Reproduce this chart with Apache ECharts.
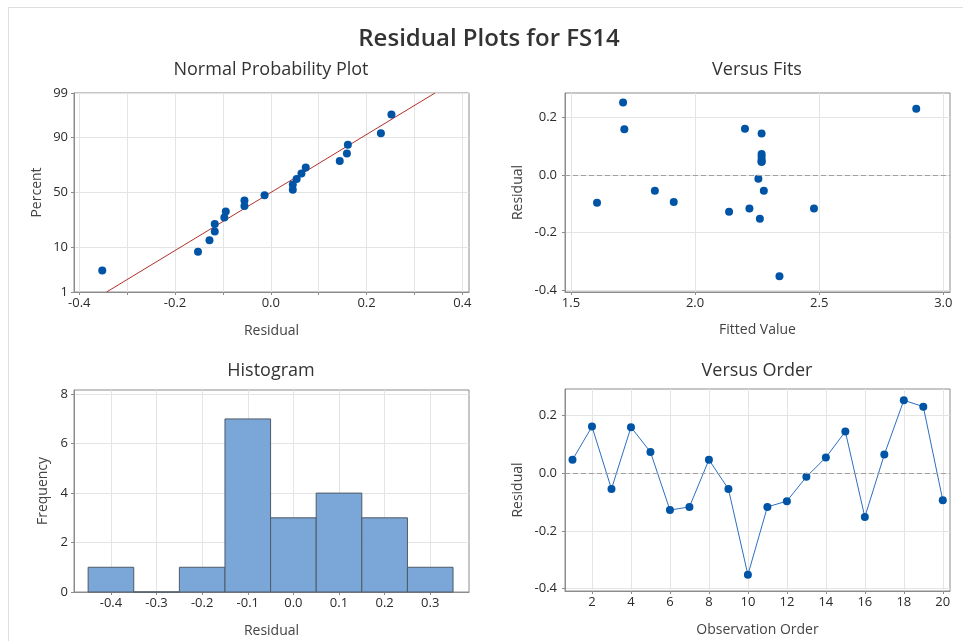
<!DOCTYPE html>
<html>
<head>
<meta charset="utf-8">
<title>Residual Plots for FS14</title>
<script src="https://cdn.jsdelivr.net/npm/echarts@6.0.0/dist/echarts.min.js"></script>
<style>
  html, body { margin: 0; padding: 0; background: #fff; }
  #chart { width: 963px; height: 641px; }
</style>
</head>
<body>
<div id="chart"></div>
<script>
// residuals in observation order
const obsOrder = [1, 2, 3, 4, 5, 6, 7, 8, 9, 10, 11, 12, 13, 14, 15, 16, 17, 18, 19, 20]
const residuals = [0.046, 0.161, -0.055, 0.159, 0.073, -0.128, -0.117, 0.046, -0.055, -0.352,
                   -0.117, -0.097, -0.013, 0.054, 0.144, -0.152, 0.064, 0.252, 0.230, -0.094]
const fittedValues = [2.268, 2.201, 1.838, 1.715, 2.268, 2.137, 2.219, 2.268, 2.277, 2.340,
                      2.479, 1.605, 2.255, 2.268, 2.268, 2.261, 2.268, 1.710, 2.891, 1.914]

// normal probability plot: percent of each sorted residual, and fitted line ends
const probPercent = [3.4, 8.3, 13.2, 18.1, 23.0, 27.9, 32.8, 37.7, 42.6, 47.5,
                     52.5, 57.4, 62.3, 67.2, 72.1, 77.0, 81.9, 86.8, 91.7, 96.6]
const fitLineResidual = [-0.343, 0.343]
const fitLinePercent = [1, 99]

// histogram bins
const binStart = [-0.45, -0.35, -0.25, -0.15, -0.05, 0.05, 0.15, 0.25]
const binEnd = [-0.35, -0.25, -0.15, -0.05, 0.05, 0.15, 0.25, 0.35]
const binCount = [1, 0, 1, 7, 3, 4, 3, 1]

// tick labels
const probTicks = [1, 10, 50, 90, 99]
const npLabelTicks = [-0.4, -0.2, 0, 0.2, 0.4]
const npGridTicks = [-0.4, -0.3, -0.2, -0.1, 0, 0.1, 0.2, 0.3, 0.4]
const fitTicks = [1.5, 2.0, 2.5, 3.0]
const residTicks = [-0.4, -0.2, 0, 0.2]
const histTicks = [-0.4, -0.3, -0.2, -0.1, 0, 0.1, 0.2, 0.3]
const freqTicks = [0, 2, 4, 6, 8]
const orderTicks = [2, 4, 6, 8, 10, 12, 14, 16, 18, 20]

// inverse normal cdf, used as the probability axis scale
function probit(p) {
  const a = [-3.969683028665376e+01, 2.209460984245205e+02, -2.759285104469687e+02, 1.383577518672690e+02, -3.066479806614716e+01, 2.506628277459239e+00]
  const b = [-5.447609879822406e+01, 1.615858368580409e+02, -1.556989798598866e+02, 6.680131188771972e+01, -1.328068155288572e+01]
  const c = [-7.784894002430293e-03, -3.223964580411365e-01, -2.400758277161838e+00, -2.549732539343734e+00, 4.374664141464968e+00, 2.938163982698783e+00]
  const d = [7.784695709041462e-03, 3.224671290700398e-01, 2.445134137142996e+00, 3.754408661907416e+00]
  const pl = 0.02425
  let q, r
  if (p < pl) {
    q = Math.sqrt(-2 * Math.log(p))
    return (((((c[0]*q+c[1])*q+c[2])*q+c[3])*q+c[4])*q+c[5]) / ((((d[0]*q+d[1])*q+d[2])*q+d[3])*q+1)
  }
  if (p <= 1 - pl) {
    q = p - 0.5; r = q * q
    return (((((a[0]*r+a[1])*r+a[2])*r+a[3])*r+a[4])*r+a[5])*q / (((((b[0]*r+b[1])*r+b[2])*r+b[3])*r+b[4])*r+1)
  }
  q = Math.sqrt(-2 * Math.log(1 - p))
  return -(((((c[0]*q+c[1])*q+c[2])*q+c[3])*q+c[4])*q+c[5]) / ((((d[0]*q+d[1])*q+d[2])*q+d[3])*q+1)
}

const probZ = probTicks.map(p => probit(p / 100))
const sortedResid = residuals.slice().sort((x, y) => x - y)

const FONT = 'Open Sans'
const BLUE = '#0054a6'
const GRID_COLOR = '#e4e4e4'
const FRAME_COLOR = '#8c8c8c'

const gridDef = (left, top, width, height) => ({
  left, top, width, height, show: true, borderColor: FRAME_COLOR, borderWidth: 1, outerBoundsMode: 'none'
})

const makeAxis = (gridIndex, opt) => ({
  gridIndex,
  type: 'value',
  min: opt.min,
  max: opt.max,
  name: opt.name,
  nameLocation: 'middle',
  nameGap: opt.nameGap,
  nameTextStyle: { fontFamily: FONT, fontSize: 14, color: '#444' },
  axisLine: { show: true, onZero: false, lineStyle: { color: FRAME_COLOR } },
  axisTick: { show: true, length: 3, lineStyle: { color: FRAME_COLOR }, customValues: opt.ticks },
  axisLabel: {
    fontFamily: FONT, fontSize: 13, color: '#2b2b2b', margin: opt.margin,
    customValues: opt.labels, formatter: opt.formatter
  },
  splitLine: { show: true, lineStyle: { color: GRID_COLOR } }
})

const zeroLine = {
  silent: true,
  symbol: 'none',
  label: { show: false },
  lineStyle: { color: '#a0a0a0', type: [5, 3], width: 1 },
  data: [{ yAxis: 0 }]
}

const titleStyle = (text, left, top, size, weight) => ({
  text, left, top, textAlign: 'center',
  textStyle: { fontFamily: FONT, fontSize: size, fontWeight: weight, color: '#333' }
})

const myChart = echarts.init(document.getElementById('chart'))

myChart.setOption({
  animation: false,
  backgroundColor: '#fff',
  title: [
    titleStyle('Residual Plots for FS14', 484, 22, 24, 600),
    titleStyle('Normal Probability Plot', 266, 56, 18, 'normal'),
    titleStyle('Versus Fits', 752, 56, 18, 'normal'),
    titleStyle('Histogram', 266, 357, 18, 'normal'),
    titleStyle('Versus Order', 752, 357, 18, 'normal')
  ],
  graphic: [{
    type: 'rect', silent: true,
    shape: { x: 8.5, y: 7.5, width: 1000, height: 1000 },
    style: { fill: 'none', stroke: '#dedede', lineWidth: 1 }
  }],
  grid: [
    gridDef(74, 93, 395, 199),
    gridDef(565, 93, 385, 199),
    gridDef(74, 390, 395, 202),
    gridDef(565, 389, 385, 202)
  ],
  xAxis: [
    makeAxis(0, { min: -0.411, max: 0.414, name: 'Residual', nameGap: 32, margin: 5,
      ticks: npGridTicks, labels: npLabelTicks, formatter: v => v.toFixed(1) }),
    makeAxis(1, { min: 1.476, max: 3.027, name: 'Fitted Value', nameGap: 31, margin: 5,
      ticks: fitTicks, labels: fitTicks, formatter: v => v.toFixed(1) }),
    makeAxis(2, { min: -0.481, max: 0.385, name: 'Residual', nameGap: 32, margin: 5,
      ticks: histTicks, labels: histTicks, formatter: v => v.toFixed(1) }),
    makeAxis(3, { min: 0.615, max: 20.37, name: 'Observation Order', nameGap: 32, margin: 5,
      ticks: orderTicks, labels: orderTicks, formatter: v => String(v) })
  ],
  yAxis: [
    makeAxis(0, { min: probZ[0], max: probZ[probZ.length - 1], name: 'Percent', nameGap: 30, margin: 6,
      ticks: probZ, labels: probZ,
      formatter: v => {
        const i = probZ.findIndex(z => Math.abs(z - v) < 1e-6)
        return i >= 0 ? String(probTicks[i]) : ''
      } }),
    makeAxis(1, { min: -0.407, max: 0.285, name: 'Residual', nameGap: 40, margin: 8,
      ticks: residTicks, labels: residTicks, formatter: v => v.toFixed(1) }),
    makeAxis(2, { min: 0, max: 8.17, name: 'Frequency', nameGap: 24, margin: 6,
      ticks: freqTicks, labels: freqTicks, formatter: v => String(v) }),
    makeAxis(3, { min: -0.408, max: 0.291, name: 'Residual', nameGap: 40, margin: 8,
      ticks: residTicks, labels: residTicks, formatter: v => v.toFixed(1) })
  ],
  series: [
    {
      name: 'fit', type: 'line', xAxisIndex: 0, yAxisIndex: 0,
      data: fitLineResidual.map((x, i) => [x, probit(fitLinePercent[i] / 100)]),
      symbol: 'none', silent: true,
      lineStyle: { color: '#b0302a', width: 1 }, z: 2
    },
    {
      name: 'probability', type: 'scatter', xAxisIndex: 0, yAxisIndex: 0,
      data: sortedResid.map((x, i) => [x, probit(probPercent[i] / 100)]),
      symbolSize: 8, itemStyle: { color: BLUE, opacity: 1 }, z: 3
    },
    {
      name: 'fits', type: 'scatter', xAxisIndex: 1, yAxisIndex: 1,
      data: fittedValues.map((f, i) => [f, residuals[i]]),
      symbolSize: 8, itemStyle: { color: BLUE, opacity: 1 },
      markLine: zeroLine
    },
    {
      name: 'histogram', type: 'custom', xAxisIndex: 2, yAxisIndex: 2,
      data: binCount.map((n, i) => [binStart[i], binEnd[i], n]),
      encode: { x: [0, 1], y: 2 },
      renderItem: (params, api) => {
        const p0 = api.coord([api.value(0), 0])
        const p1 = api.coord([api.value(1), api.value(2)])
        return {
          type: 'rect',
          shape: { x: p0[0], y: p1[1], width: p1[0] - p0[0], height: p0[1] - p1[1] },
          style: { fill: '#7ba6d8', stroke: '#4e5a66', lineWidth: 1 }
        }
      }
    },
    {
      name: 'order', type: 'line', xAxisIndex: 3, yAxisIndex: 3,
      data: obsOrder.map((o, i) => [o, residuals[i]]),
      symbol: 'circle', symbolSize: 8,
      itemStyle: { color: BLUE },
      lineStyle: { color: '#2d6fc0', width: 1 },
      markLine: zeroLine
    }
  ]
})
</script>
</body>
</html>
